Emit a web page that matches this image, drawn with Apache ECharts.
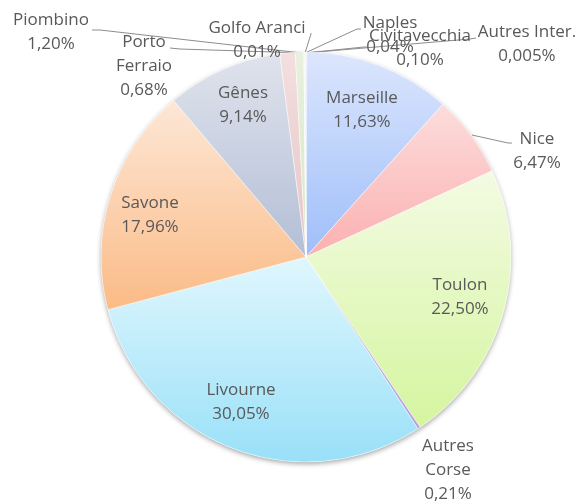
<!DOCTYPE html>
<html>
<head>
<meta charset="utf-8">
<style>
html, body { margin: 0; padding: 0; background: #fff; }
#chart { width: 580px; height: 503px; }
</style>
<script src="https://cdn.jsdelivr.net/npm/echarts@6/dist/echarts.min.js"></script>
</head>
<body>
<div id="chart"></div>
<script>
// ports, clockwise from 12 o'clock
const ports = ['Marseille', 'Nice', 'Toulon', 'Autres Corse', 'Livourne', 'Savone', 'Gênes',
  'Piombino', 'Porto Ferraio', 'Golfo Aranci', 'Naples', 'Civitavecchia', 'Autres Inter.']
const labelNames = ['Marseille', 'Nice', 'Toulon', 'Autres\nCorse', 'Livourne', 'Savone', 'Gênes',
  'Piombino', 'Porto\nFerraio', 'Golfo Aranci', 'Naples', 'Civitavecchia', 'Autres Inter.']
const shares = [11.63, 6.47, 22.50, 0.21, 30.05, 17.96, 9.14, 1.20, 0.68, 0.01, 0.04, 0.10, 0.005]

// gradient top / bottom per slice
const topColors = ['#dce6fd', '#fddcdc', '#f3fbe3', '#cdbdea', '#e0f7fe', '#fde7d6', '#dfe3ec',
  '#f3dfdf', '#e9f0df', '#e4e4f2', '#e4f2f6', '#fbe7d8', '#e2e6ef']
const bottomColors = ['#9ebefa', '#fbb0b0', '#d5f59f', '#b49ee0', '#99e0f8', '#fbbb86', '#b3bed6',
  '#e6c4c4', '#d9e6c6', '#c8c8e4', '#c4e4ee', '#f5c9a6', '#c2cbdc']

// label centres and leader lines (screen px)
const labelPos = [[362, 110], [537, 151], [460, 297], [448, 470], [241, 402], [150, 215], [243, 105],
  [51, 32], [144, 66], [257, 40], [390, 35], [420, 48], [527, 44]]
const leaderLines = {
  1: [[472, 135], [508, 143], [512, 143]],
  7: [[302, 53], [100, 30], [92, 30]],
  8: [[303, 53], [180, 49], [170, 48]],
  9: [[305, 53], [311, 34], [311, 33]],
  10: [[305, 53], [357, 29], [361, 29]],
  11: [[305, 53], [364, 47], [367, 47]],
  12: [[305, 53], [470, 39], [476, 38]]
}

function pct (v) {
  const s = v < 0.01 ? v.toFixed(3) : v.toFixed(2)
  return s.replace('.', ',') + '%'
}

const chart = echarts.init(document.getElementById('chart'))
const center = [306, 257]
const radius = 205

const data = ports.map((name, i) => ({
  name: name,
  value: shares[i],
  itemStyle: {
    color: new echarts.graphic.LinearGradient(0, 0, 0, 1, [
      { offset: 0, color: topColors[i] },
      { offset: 1, color: bottomColors[i] }
    ])
  },
  labelLine: { show: !!leaderLines[i] }
}))

chart.setOption({
  animation: false,
  series: [
    {
      // soft shadow under the pie
      type: 'pie',
      z: 1,
      silent: true,
      center: center,
      radius: radius,
      label: { show: false },
      labelLine: { show: false },
      itemStyle: {
        color: '#ffffff',
        shadowBlur: 5,
        shadowOffsetY: 2,
        shadowColor: 'rgba(0,0,0,0.35)'
      },
      data: [{ value: 1 }]
    },
    {
      type: 'pie',
      z: 2,
      center: center,
      radius: radius,
      startAngle: 90,
      clockwise: true,
      avoidLabelOverlap: false,
      itemStyle: {
        borderColor: 'rgba(255,255,255,0.6)',
        borderWidth: 0.75
      },
      label: {
        show: true,
        position: 'outside',
        fontFamily: 'Open Sans',
        fontSize: 17,
        lineHeight: 24,
        color: '#595959',
        align: 'center',
        formatter: p => labelNames[p.dataIndex] + '\n' + pct(shares[p.dataIndex])
      },
      labelLine: {
        lineStyle: { color: '#8c8c8c', width: 1 }
      },
      labelLayout: p => {
        const pos = labelPos[p.dataIndex]
        const out = { x: pos[0], y: pos[1], align: 'center', verticalAlign: 'middle' }
        if (leaderLines[p.dataIndex]) out.labelLinePoints = leaderLines[p.dataIndex]
        return out
      },
      data: data
    }
  ]
})
</script>
</body>
</html>
